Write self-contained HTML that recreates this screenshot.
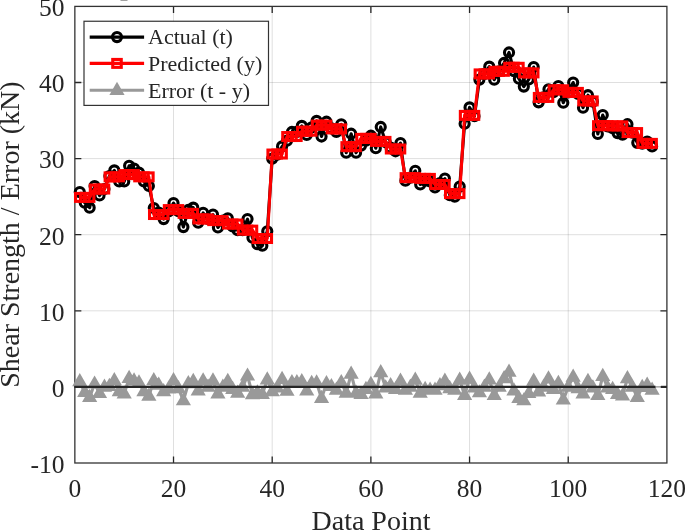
<!DOCTYPE html>
<html><head><meta charset="utf-8"><title>Shear Strength Prediction</title>
<style>html,body{margin:0;padding:0;background:#fff}body{width:685px;height:530px;overflow:hidden}svg{display:block}text{font-family:"Liberation Serif","Times New Roman",serif;fill:#262626}</style></head><body>
<svg width="685" height="530" viewBox="0 0 685 530">
<rect width="685" height="530" fill="#fff"/>
<rect x="120.5" y="0" width="7" height="0.8" fill="#8a8a8a"/>
<path d="M173.52 6.4 V463.0 M272.20 6.4 V463.0 M370.88 6.4 V463.0 M469.55 6.4 V463.0 M568.22 6.4 V463.0 M74.85 386.90 H666.9 M74.85 310.80 H666.9 M74.85 234.70 H666.9 M74.85 158.60 H666.9 M74.85 82.50 H666.9" stroke="#262626" stroke-opacity="0.15" stroke-width="1" fill="none"/>
<path d="M173.52 463.0 v-6.5 M173.52 6.4 v6.5 M272.20 463.0 v-6.5 M272.20 6.4 v6.5 M370.88 463.0 v-6.5 M370.88 6.4 v6.5 M469.55 463.0 v-6.5 M469.55 6.4 v6.5 M568.22 463.0 v-6.5 M568.22 6.4 v6.5 M74.85 386.90 h6.5 M666.9 386.90 h-6.5 M74.85 310.80 h6.5 M666.9 310.80 h-6.5 M74.85 234.70 h6.5 M666.9 234.70 h-6.5 M74.85 158.60 h6.5 M666.9 158.60 h-6.5 M74.85 82.50 h6.5 M666.9 82.50 h-6.5" stroke="#262626" stroke-width="1.3" fill="none"/>
<rect x="74.85" y="6.4" width="592.05" height="456.6" fill="none" stroke="#333" stroke-width="1.3"/>
<polyline points="79.78,192.08 84.72,202.74 89.65,207.68 94.58,186.00 99.52,195.51 104.45,189.04 109.39,176.10 114.32,170.40 119.25,181.43 124.19,181.43 129.12,165.83 134.06,168.49 138.99,172.68 143.92,181.43 148.86,186.00 153.79,208.06 158.72,212.63 163.66,219.10 168.59,211.49 173.52,203.12 178.46,211.11 183.39,227.09 188.33,209.97 193.26,207.68 198.19,222.75 203.13,212.86 208.06,218.95 212.99,214.53 217.93,227.47 222.86,220.62 227.80,218.34 232.73,226.33 237.66,230.13 242.60,230.13 247.53,219.10 252.46,237.74 257.40,244.21 262.33,245.73 267.27,231.28 272.20,158.60 277.13,154.80 282.07,146.42 287.00,140.72 291.93,131.96 296.87,131.96 301.80,125.88 306.74,135.01 311.67,127.40 316.60,120.93 321.54,136.53 326.47,121.69 331.40,128.39 336.34,131.96 341.27,124.35 346.21,152.74 351.14,133.72 356.07,152.74 361.01,145.59 365.94,140.64 370.88,135.69 375.81,148.25 380.74,126.94 385.68,142.16 390.61,147.64 395.54,151.29 400.48,143.08 405.41,180.67 410.34,177.62 415.28,170.78 420.21,184.47 425.15,180.67 430.08,181.43 435.01,187.52 439.95,183.10 444.88,178.54 449.81,195.13 454.75,196.65 459.68,186.60 464.62,123.75 469.55,107.38 474.48,116.14 479.42,79.61 484.35,73.90 489.28,66.67 494.22,79.68 499.15,71.31 504.09,62.94 509.02,52.44 513.95,71.08 518.89,78.69 523.82,86.61 528.75,79.38 533.69,67.05 538.62,102.36 543.56,97.42 548.49,89.27 553.42,92.09 558.36,86.00 563.29,102.74 568.22,92.39 573.16,82.50 578.09,93.91 583.03,107.77 587.96,95.21 592.89,101.68 597.83,134.02 602.76,114.99 607.69,126.41 612.63,128.16 617.56,133.11 622.50,134.63 627.43,124.20 632.36,132.57 637.30,142.85 642.23,143.76 647.16,141.48 652.10,146.42" fill="none" stroke="#000" stroke-width="3.1" stroke-linejoin="round"/>
<g fill="none" stroke="#000" stroke-width="3.1">
<circle cx="79.78" cy="192.08" r="4.55"/>
<circle cx="84.72" cy="202.74" r="4.55"/>
<circle cx="89.65" cy="207.68" r="4.55"/>
<circle cx="94.58" cy="186.00" r="4.55"/>
<circle cx="99.52" cy="195.51" r="4.55"/>
<circle cx="104.45" cy="189.04" r="4.55"/>
<circle cx="109.39" cy="176.10" r="4.55"/>
<circle cx="114.32" cy="170.40" r="4.55"/>
<circle cx="119.25" cy="181.43" r="4.55"/>
<circle cx="124.19" cy="181.43" r="4.55"/>
<circle cx="129.12" cy="165.83" r="4.55"/>
<circle cx="134.06" cy="168.49" r="4.55"/>
<circle cx="138.99" cy="172.68" r="4.55"/>
<circle cx="143.92" cy="181.43" r="4.55"/>
<circle cx="148.86" cy="186.00" r="4.55"/>
<circle cx="153.79" cy="208.06" r="4.55"/>
<circle cx="158.72" cy="212.63" r="4.55"/>
<circle cx="163.66" cy="219.10" r="4.55"/>
<circle cx="168.59" cy="211.49" r="4.55"/>
<circle cx="173.52" cy="203.12" r="4.55"/>
<circle cx="178.46" cy="211.11" r="4.55"/>
<circle cx="183.39" cy="227.09" r="4.55"/>
<circle cx="188.33" cy="209.97" r="4.55"/>
<circle cx="193.26" cy="207.68" r="4.55"/>
<circle cx="198.19" cy="222.75" r="4.55"/>
<circle cx="203.13" cy="212.86" r="4.55"/>
<circle cx="208.06" cy="218.95" r="4.55"/>
<circle cx="212.99" cy="214.53" r="4.55"/>
<circle cx="217.93" cy="227.47" r="4.55"/>
<circle cx="222.86" cy="220.62" r="4.55"/>
<circle cx="227.80" cy="218.34" r="4.55"/>
<circle cx="232.73" cy="226.33" r="4.55"/>
<circle cx="237.66" cy="230.13" r="4.55"/>
<circle cx="242.60" cy="230.13" r="4.55"/>
<circle cx="247.53" cy="219.10" r="4.55"/>
<circle cx="252.46" cy="237.74" r="4.55"/>
<circle cx="257.40" cy="244.21" r="4.55"/>
<circle cx="262.33" cy="245.73" r="4.55"/>
<circle cx="267.27" cy="231.28" r="4.55"/>
<circle cx="272.20" cy="158.60" r="4.55"/>
<circle cx="277.13" cy="154.80" r="4.55"/>
<circle cx="282.07" cy="146.42" r="4.55"/>
<circle cx="287.00" cy="140.72" r="4.55"/>
<circle cx="291.93" cy="131.96" r="4.55"/>
<circle cx="296.87" cy="131.96" r="4.55"/>
<circle cx="301.80" cy="125.88" r="4.55"/>
<circle cx="306.74" cy="135.01" r="4.55"/>
<circle cx="311.67" cy="127.40" r="4.55"/>
<circle cx="316.60" cy="120.93" r="4.55"/>
<circle cx="321.54" cy="136.53" r="4.55"/>
<circle cx="326.47" cy="121.69" r="4.55"/>
<circle cx="331.40" cy="128.39" r="4.55"/>
<circle cx="336.34" cy="131.96" r="4.55"/>
<circle cx="341.27" cy="124.35" r="4.55"/>
<circle cx="346.21" cy="152.74" r="4.55"/>
<circle cx="351.14" cy="133.72" r="4.55"/>
<circle cx="356.07" cy="152.74" r="4.55"/>
<circle cx="361.01" cy="145.59" r="4.55"/>
<circle cx="365.94" cy="140.64" r="4.55"/>
<circle cx="370.88" cy="135.69" r="4.55"/>
<circle cx="375.81" cy="148.25" r="4.55"/>
<circle cx="380.74" cy="126.94" r="4.55"/>
<circle cx="385.68" cy="142.16" r="4.55"/>
<circle cx="390.61" cy="147.64" r="4.55"/>
<circle cx="395.54" cy="151.29" r="4.55"/>
<circle cx="400.48" cy="143.08" r="4.55"/>
<circle cx="405.41" cy="180.67" r="4.55"/>
<circle cx="410.34" cy="177.62" r="4.55"/>
<circle cx="415.28" cy="170.78" r="4.55"/>
<circle cx="420.21" cy="184.47" r="4.55"/>
<circle cx="425.15" cy="180.67" r="4.55"/>
<circle cx="430.08" cy="181.43" r="4.55"/>
<circle cx="435.01" cy="187.52" r="4.55"/>
<circle cx="439.95" cy="183.10" r="4.55"/>
<circle cx="444.88" cy="178.54" r="4.55"/>
<circle cx="449.81" cy="195.13" r="4.55"/>
<circle cx="454.75" cy="196.65" r="4.55"/>
<circle cx="459.68" cy="186.60" r="4.55"/>
<circle cx="464.62" cy="123.75" r="4.55"/>
<circle cx="469.55" cy="107.38" r="4.55"/>
<circle cx="474.48" cy="116.14" r="4.55"/>
<circle cx="479.42" cy="79.61" r="4.55"/>
<circle cx="484.35" cy="73.90" r="4.55"/>
<circle cx="489.28" cy="66.67" r="4.55"/>
<circle cx="494.22" cy="79.68" r="4.55"/>
<circle cx="499.15" cy="71.31" r="4.55"/>
<circle cx="504.09" cy="62.94" r="4.55"/>
<circle cx="509.02" cy="52.44" r="4.55"/>
<circle cx="513.95" cy="71.08" r="4.55"/>
<circle cx="518.89" cy="78.69" r="4.55"/>
<circle cx="523.82" cy="86.61" r="4.55"/>
<circle cx="528.75" cy="79.38" r="4.55"/>
<circle cx="533.69" cy="67.05" r="4.55"/>
<circle cx="538.62" cy="102.36" r="4.55"/>
<circle cx="543.56" cy="97.42" r="4.55"/>
<circle cx="548.49" cy="89.27" r="4.55"/>
<circle cx="553.42" cy="92.09" r="4.55"/>
<circle cx="558.36" cy="86.00" r="4.55"/>
<circle cx="563.29" cy="102.74" r="4.55"/>
<circle cx="568.22" cy="92.39" r="4.55"/>
<circle cx="573.16" cy="82.50" r="4.55"/>
<circle cx="578.09" cy="93.91" r="4.55"/>
<circle cx="583.03" cy="107.77" r="4.55"/>
<circle cx="587.96" cy="95.21" r="4.55"/>
<circle cx="592.89" cy="101.68" r="4.55"/>
<circle cx="597.83" cy="134.02" r="4.55"/>
<circle cx="602.76" cy="114.99" r="4.55"/>
<circle cx="607.69" cy="126.41" r="4.55"/>
<circle cx="612.63" cy="128.16" r="4.55"/>
<circle cx="617.56" cy="133.11" r="4.55"/>
<circle cx="622.50" cy="134.63" r="4.55"/>
<circle cx="627.43" cy="124.20" r="4.55"/>
<circle cx="632.36" cy="132.57" r="4.55"/>
<circle cx="637.30" cy="142.85" r="4.55"/>
<circle cx="642.23" cy="143.76" r="4.55"/>
<circle cx="647.16" cy="141.48" r="4.55"/>
<circle cx="652.10" cy="146.42" r="4.55"/>
</g>
<polyline points="79.78,197.41 84.72,197.41 89.65,197.41 94.58,189.04 99.52,189.04 104.45,189.04 109.39,176.86 114.32,176.86 119.25,176.86 124.19,174.58 129.12,174.58 134.06,174.58 138.99,176.86 143.92,176.86 148.86,176.86 153.79,214.53 158.72,214.53 163.66,214.53 168.59,209.59 173.52,209.59 178.46,209.59 183.39,213.39 188.33,213.39 193.26,213.39 198.19,218.95 203.13,218.95 208.06,218.95 212.99,220.62 217.93,220.62 222.86,220.62 227.80,224.05 232.73,224.05 237.66,224.05 242.60,230.13 247.53,230.13 252.46,230.13 257.40,238.50 262.33,238.50 267.27,238.50 272.20,154.03 277.13,154.03 282.07,154.03 287.00,136.53 291.93,136.53 296.87,136.53 301.80,131.20 306.74,131.20 311.67,131.20 316.60,125.12 321.54,125.12 326.47,125.12 331.40,128.92 336.34,128.92 341.27,128.92 346.21,146.65 351.14,146.65 356.07,146.65 361.01,138.36 365.94,138.36 370.88,138.36 375.81,141.40 380.74,141.40 385.68,141.40 390.61,149.01 395.54,149.01 400.48,149.01 405.41,177.62 410.34,177.62 415.28,177.62 420.21,178.39 425.15,178.39 430.08,178.39 435.01,184.47 439.95,184.47 444.88,184.47 449.81,193.61 454.75,193.61 459.68,193.61 464.62,115.38 469.55,115.38 474.48,115.38 479.42,73.90 484.35,73.90 489.28,73.90 494.22,71.31 499.15,71.31 504.09,71.31 509.02,67.28 513.95,67.28 518.89,67.28 523.82,72.91 528.75,72.91 533.69,72.91 538.62,97.42 543.56,97.42 548.49,97.42 553.42,89.81 558.36,89.81 563.29,89.81 568.22,92.39 573.16,92.39 578.09,92.39 583.03,100.92 587.96,100.92 592.89,100.92 597.83,125.65 602.76,125.65 607.69,125.65 612.63,125.88 617.56,125.88 622.50,125.88 627.43,132.57 632.36,132.57 637.30,132.57 642.23,143.38 647.16,143.38 652.10,143.38" fill="none" stroke="#f00" stroke-width="3.1" stroke-linejoin="round"/>
<g fill="none" stroke="#f00" stroke-width="3.1">
<rect x="75.53" y="193.46" width="8.5" height="7.9"/>
<rect x="80.47" y="193.46" width="8.5" height="7.9"/>
<rect x="85.40" y="193.46" width="8.5" height="7.9"/>
<rect x="90.33" y="185.09" width="8.5" height="7.9"/>
<rect x="95.27" y="185.09" width="8.5" height="7.9"/>
<rect x="100.20" y="185.09" width="8.5" height="7.9"/>
<rect x="105.14" y="172.91" width="8.5" height="7.9"/>
<rect x="110.07" y="172.91" width="8.5" height="7.9"/>
<rect x="115.00" y="172.91" width="8.5" height="7.9"/>
<rect x="119.94" y="170.63" width="8.5" height="7.9"/>
<rect x="124.87" y="170.63" width="8.5" height="7.9"/>
<rect x="129.81" y="170.63" width="8.5" height="7.9"/>
<rect x="134.74" y="172.91" width="8.5" height="7.9"/>
<rect x="139.67" y="172.91" width="8.5" height="7.9"/>
<rect x="144.61" y="172.91" width="8.5" height="7.9"/>
<rect x="149.54" y="210.58" width="8.5" height="7.9"/>
<rect x="154.47" y="210.58" width="8.5" height="7.9"/>
<rect x="159.41" y="210.58" width="8.5" height="7.9"/>
<rect x="164.34" y="205.64" width="8.5" height="7.9"/>
<rect x="169.27" y="205.64" width="8.5" height="7.9"/>
<rect x="174.21" y="205.64" width="8.5" height="7.9"/>
<rect x="179.14" y="209.44" width="8.5" height="7.9"/>
<rect x="184.08" y="209.44" width="8.5" height="7.9"/>
<rect x="189.01" y="209.44" width="8.5" height="7.9"/>
<rect x="193.94" y="215.00" width="8.5" height="7.9"/>
<rect x="198.88" y="215.00" width="8.5" height="7.9"/>
<rect x="203.81" y="215.00" width="8.5" height="7.9"/>
<rect x="208.74" y="216.67" width="8.5" height="7.9"/>
<rect x="213.68" y="216.67" width="8.5" height="7.9"/>
<rect x="218.61" y="216.67" width="8.5" height="7.9"/>
<rect x="223.55" y="220.10" width="8.5" height="7.9"/>
<rect x="228.48" y="220.10" width="8.5" height="7.9"/>
<rect x="233.41" y="220.10" width="8.5" height="7.9"/>
<rect x="238.35" y="226.18" width="8.5" height="7.9"/>
<rect x="243.28" y="226.18" width="8.5" height="7.9"/>
<rect x="248.21" y="226.18" width="8.5" height="7.9"/>
<rect x="253.15" y="234.56" width="8.5" height="7.9"/>
<rect x="258.08" y="234.56" width="8.5" height="7.9"/>
<rect x="263.02" y="234.56" width="8.5" height="7.9"/>
<rect x="267.95" y="150.08" width="8.5" height="7.9"/>
<rect x="272.88" y="150.08" width="8.5" height="7.9"/>
<rect x="277.82" y="150.08" width="8.5" height="7.9"/>
<rect x="282.75" y="132.58" width="8.5" height="7.9"/>
<rect x="287.68" y="132.58" width="8.5" height="7.9"/>
<rect x="292.62" y="132.58" width="8.5" height="7.9"/>
<rect x="297.55" y="127.25" width="8.5" height="7.9"/>
<rect x="302.49" y="127.25" width="8.5" height="7.9"/>
<rect x="307.42" y="127.25" width="8.5" height="7.9"/>
<rect x="312.35" y="121.17" width="8.5" height="7.9"/>
<rect x="317.29" y="121.17" width="8.5" height="7.9"/>
<rect x="322.22" y="121.17" width="8.5" height="7.9"/>
<rect x="327.15" y="124.97" width="8.5" height="7.9"/>
<rect x="332.09" y="124.97" width="8.5" height="7.9"/>
<rect x="337.02" y="124.97" width="8.5" height="7.9"/>
<rect x="341.96" y="142.70" width="8.5" height="7.9"/>
<rect x="346.89" y="142.70" width="8.5" height="7.9"/>
<rect x="351.82" y="142.70" width="8.5" height="7.9"/>
<rect x="356.76" y="134.41" width="8.5" height="7.9"/>
<rect x="361.69" y="134.41" width="8.5" height="7.9"/>
<rect x="366.62" y="134.41" width="8.5" height="7.9"/>
<rect x="371.56" y="137.45" width="8.5" height="7.9"/>
<rect x="376.49" y="137.45" width="8.5" height="7.9"/>
<rect x="381.43" y="137.45" width="8.5" height="7.9"/>
<rect x="386.36" y="145.06" width="8.5" height="7.9"/>
<rect x="391.29" y="145.06" width="8.5" height="7.9"/>
<rect x="396.23" y="145.06" width="8.5" height="7.9"/>
<rect x="401.16" y="173.68" width="8.5" height="7.9"/>
<rect x="406.09" y="173.68" width="8.5" height="7.9"/>
<rect x="411.03" y="173.68" width="8.5" height="7.9"/>
<rect x="415.96" y="174.44" width="8.5" height="7.9"/>
<rect x="420.90" y="174.44" width="8.5" height="7.9"/>
<rect x="425.83" y="174.44" width="8.5" height="7.9"/>
<rect x="430.76" y="180.52" width="8.5" height="7.9"/>
<rect x="435.70" y="180.52" width="8.5" height="7.9"/>
<rect x="440.63" y="180.52" width="8.5" height="7.9"/>
<rect x="445.56" y="189.66" width="8.5" height="7.9"/>
<rect x="450.50" y="189.66" width="8.5" height="7.9"/>
<rect x="455.43" y="189.66" width="8.5" height="7.9"/>
<rect x="460.37" y="111.43" width="8.5" height="7.9"/>
<rect x="465.30" y="111.43" width="8.5" height="7.9"/>
<rect x="470.23" y="111.43" width="8.5" height="7.9"/>
<rect x="475.17" y="69.95" width="8.5" height="7.9"/>
<rect x="480.10" y="69.95" width="8.5" height="7.9"/>
<rect x="485.03" y="69.95" width="8.5" height="7.9"/>
<rect x="489.97" y="67.36" width="8.5" height="7.9"/>
<rect x="494.90" y="67.36" width="8.5" height="7.9"/>
<rect x="499.84" y="67.36" width="8.5" height="7.9"/>
<rect x="504.77" y="63.33" width="8.5" height="7.9"/>
<rect x="509.70" y="63.33" width="8.5" height="7.9"/>
<rect x="514.64" y="63.33" width="8.5" height="7.9"/>
<rect x="519.57" y="68.96" width="8.5" height="7.9"/>
<rect x="524.50" y="68.96" width="8.5" height="7.9"/>
<rect x="529.44" y="68.96" width="8.5" height="7.9"/>
<rect x="534.37" y="93.47" width="8.5" height="7.9"/>
<rect x="539.31" y="93.47" width="8.5" height="7.9"/>
<rect x="544.24" y="93.47" width="8.5" height="7.9"/>
<rect x="549.17" y="85.86" width="8.5" height="7.9"/>
<rect x="554.11" y="85.86" width="8.5" height="7.9"/>
<rect x="559.04" y="85.86" width="8.5" height="7.9"/>
<rect x="563.97" y="88.44" width="8.5" height="7.9"/>
<rect x="568.91" y="88.44" width="8.5" height="7.9"/>
<rect x="573.84" y="88.44" width="8.5" height="7.9"/>
<rect x="578.78" y="96.97" width="8.5" height="7.9"/>
<rect x="583.71" y="96.97" width="8.5" height="7.9"/>
<rect x="588.64" y="96.97" width="8.5" height="7.9"/>
<rect x="593.58" y="121.70" width="8.5" height="7.9"/>
<rect x="598.51" y="121.70" width="8.5" height="7.9"/>
<rect x="603.44" y="121.70" width="8.5" height="7.9"/>
<rect x="608.38" y="121.93" width="8.5" height="7.9"/>
<rect x="613.31" y="121.93" width="8.5" height="7.9"/>
<rect x="618.25" y="121.93" width="8.5" height="7.9"/>
<rect x="623.18" y="128.62" width="8.5" height="7.9"/>
<rect x="628.11" y="128.62" width="8.5" height="7.9"/>
<rect x="633.05" y="128.62" width="8.5" height="7.9"/>
<rect x="637.98" y="139.43" width="8.5" height="7.9"/>
<rect x="642.91" y="139.43" width="8.5" height="7.9"/>
<rect x="647.85" y="139.43" width="8.5" height="7.9"/>
</g>
<polyline points="79.78,381.57 84.72,392.23 89.65,397.17 94.58,383.86 99.52,393.37 104.45,386.90 109.39,386.14 114.32,380.43 119.25,391.47 124.19,393.75 129.12,378.15 134.06,380.81 138.99,382.71 143.92,391.47 148.86,396.03 153.79,380.43 158.72,385.00 163.66,391.47 168.59,388.80 173.52,380.43 178.46,388.42 183.39,400.60 188.33,383.48 193.26,381.19 198.19,390.70 203.13,380.81 208.06,386.90 212.99,380.81 217.93,393.75 222.86,386.90 227.80,381.19 232.73,389.18 237.66,392.99 242.60,386.90 247.53,375.87 252.46,394.51 257.40,392.61 262.33,394.13 267.27,379.67 272.20,391.47 277.13,387.66 282.07,379.29 287.00,391.09 291.93,382.33 296.87,382.33 301.80,381.57 306.74,390.70 311.67,383.10 316.60,382.71 321.54,398.31 326.47,383.48 331.40,386.37 336.34,389.94 341.27,382.33 346.21,392.99 351.14,373.96 356.07,392.99 361.01,394.13 365.94,389.18 370.88,384.24 375.81,393.75 380.74,372.44 385.68,387.66 390.61,385.53 395.54,389.18 400.48,380.96 405.41,389.94 410.34,386.90 415.28,380.05 420.21,392.99 425.15,389.18 430.08,389.94 435.01,389.94 439.95,385.53 444.88,380.96 449.81,388.42 454.75,389.94 459.68,379.90 464.62,395.27 469.55,378.91 474.48,387.66 479.42,392.61 484.35,386.90 489.28,379.67 494.22,395.27 499.15,386.90 504.09,378.53 509.02,372.06 513.95,390.70 518.89,398.31 523.82,400.60 528.75,393.37 533.69,381.04 538.62,391.85 543.56,386.90 548.49,378.76 553.42,389.18 558.36,383.10 563.29,399.84 568.22,386.90 573.16,377.01 578.09,388.42 583.03,393.75 587.96,381.19 592.89,387.66 597.83,395.27 602.76,376.25 607.69,387.66 612.63,389.18 617.56,394.13 622.50,395.65 627.43,378.53 632.36,386.90 637.30,397.17 642.23,387.28 647.16,385.00 652.10,389.94" fill="none" stroke="#999" stroke-width="3.1" stroke-linejoin="round"/>
<path d="M72.18 386.32 L87.38 386.32 L79.78 373.12 Z M77.12 396.98 L92.32 396.98 L84.72 383.78 Z M82.05 401.93 L97.25 401.93 L89.65 388.73 Z M86.98 388.61 L102.18 388.61 L94.58 375.41 Z M91.92 398.12 L107.12 398.12 L99.52 384.92 Z M96.85 391.65 L112.05 391.65 L104.45 378.45 Z M101.79 390.89 L116.99 390.89 L109.39 377.69 Z M106.72 385.18 L121.92 385.18 L114.32 371.98 Z M111.65 396.22 L126.85 396.22 L119.25 383.02 Z M116.59 398.50 L131.79 398.50 L124.19 385.30 Z M121.52 382.90 L136.72 382.90 L129.12 369.70 Z M126.46 385.56 L141.66 385.56 L134.06 372.36 Z M131.39 387.47 L146.59 387.47 L138.99 374.27 Z M136.32 396.22 L151.52 396.22 L143.92 383.02 Z M141.26 400.78 L156.46 400.78 L148.86 387.58 Z M146.19 385.18 L161.39 385.18 L153.79 371.98 Z M151.12 389.75 L166.32 389.75 L158.72 376.55 Z M156.06 396.22 L171.26 396.22 L163.66 383.02 Z M160.99 393.55 L176.19 393.55 L168.59 380.35 Z M165.92 385.18 L181.12 385.18 L173.52 371.98 Z M170.86 393.17 L186.06 393.17 L178.46 379.97 Z M175.79 405.35 L190.99 405.35 L183.39 392.15 Z M180.73 388.23 L195.93 388.23 L188.33 375.03 Z M185.66 385.94 L200.86 385.94 L193.26 372.74 Z M190.59 395.46 L205.79 395.46 L198.19 382.26 Z M195.53 385.56 L210.73 385.56 L203.13 372.36 Z M200.46 391.65 L215.66 391.65 L208.06 378.45 Z M205.39 385.56 L220.59 385.56 L212.99 372.36 Z M210.33 398.50 L225.53 398.50 L217.93 385.30 Z M215.26 391.65 L230.46 391.65 L222.86 378.45 Z M220.20 385.94 L235.40 385.94 L227.80 372.74 Z M225.13 393.94 L240.33 393.94 L232.73 380.74 Z M230.06 397.74 L245.26 397.74 L237.66 384.54 Z M235.00 391.65 L250.20 391.65 L242.60 378.45 Z M239.93 380.62 L255.13 380.62 L247.53 367.42 Z M244.86 399.26 L260.06 399.26 L252.46 386.06 Z M249.80 397.36 L265.00 397.36 L257.40 384.16 Z M254.73 398.88 L269.93 398.88 L262.33 385.68 Z M259.67 384.42 L274.87 384.42 L267.27 371.22 Z M264.60 396.22 L279.80 396.22 L272.20 383.02 Z M269.53 392.41 L284.73 392.41 L277.13 379.21 Z M274.47 384.04 L289.67 384.04 L282.07 370.84 Z M279.40 395.84 L294.60 395.84 L287.00 382.64 Z M284.33 387.09 L299.53 387.09 L291.93 373.89 Z M289.27 387.09 L304.47 387.09 L296.87 373.89 Z M294.20 386.32 L309.40 386.32 L301.80 373.12 Z M299.14 395.46 L314.34 395.46 L306.74 382.26 Z M304.07 387.85 L319.27 387.85 L311.67 374.65 Z M309.00 387.47 L324.20 387.47 L316.60 374.27 Z M313.94 403.07 L329.14 403.07 L321.54 389.87 Z M318.87 388.23 L334.07 388.23 L326.47 375.03 Z M323.80 391.12 L339.00 391.12 L331.40 377.92 Z M328.74 394.70 L343.94 394.70 L336.34 381.50 Z M333.67 387.09 L348.87 387.09 L341.27 373.89 Z M338.61 397.74 L353.81 397.74 L346.21 384.54 Z M343.54 378.71 L358.74 378.71 L351.14 365.51 Z M348.47 397.74 L363.67 397.74 L356.07 384.54 Z M353.41 398.88 L368.61 398.88 L361.01 385.68 Z M358.34 393.94 L373.54 393.94 L365.94 380.74 Z M363.27 388.99 L378.48 388.99 L370.88 375.79 Z M368.21 398.50 L383.41 398.50 L375.81 385.30 Z M373.14 377.19 L388.34 377.19 L380.74 363.99 Z M378.08 392.41 L393.28 392.41 L385.68 379.21 Z M383.01 390.28 L398.21 390.28 L390.61 377.08 Z M387.94 393.94 L403.14 393.94 L395.54 380.74 Z M392.88 385.72 L408.08 385.72 L400.48 372.52 Z M397.81 394.70 L413.01 394.70 L405.41 381.50 Z M402.74 391.65 L417.94 391.65 L410.34 378.45 Z M407.68 384.80 L422.88 384.80 L415.28 371.60 Z M412.61 397.74 L427.81 397.74 L420.21 384.54 Z M417.55 393.94 L432.75 393.94 L425.15 380.74 Z M422.48 394.70 L437.68 394.70 L430.08 381.50 Z M427.41 394.70 L442.61 394.70 L435.01 381.50 Z M432.35 390.28 L447.55 390.28 L439.95 377.08 Z M437.28 385.72 L452.48 385.72 L444.88 372.52 Z M442.21 393.17 L457.41 393.17 L449.81 379.97 Z M447.15 394.70 L462.35 394.70 L454.75 381.50 Z M452.08 384.65 L467.28 384.65 L459.68 371.45 Z M457.02 400.02 L472.22 400.02 L464.62 386.82 Z M461.95 383.66 L477.15 383.66 L469.55 370.46 Z M466.88 392.41 L482.08 392.41 L474.48 379.21 Z M471.82 397.36 L487.02 397.36 L479.42 384.16 Z M476.75 391.65 L491.95 391.65 L484.35 378.45 Z M481.68 384.42 L496.88 384.42 L489.28 371.22 Z M486.62 400.02 L501.82 400.02 L494.22 386.82 Z M491.55 391.65 L506.75 391.65 L499.15 378.45 Z M496.49 383.28 L511.69 383.28 L504.09 370.08 Z M501.42 376.81 L516.62 376.81 L509.02 363.61 Z M506.35 395.46 L521.55 395.46 L513.95 382.26 Z M511.29 403.07 L526.49 403.07 L518.89 389.87 Z M516.22 405.35 L531.42 405.35 L523.82 392.15 Z M521.15 398.12 L536.36 398.12 L528.75 384.92 Z M526.09 385.79 L541.29 385.79 L533.69 372.59 Z M531.02 396.60 L546.22 396.60 L538.62 383.40 Z M535.96 391.65 L551.16 391.65 L543.56 378.45 Z M540.89 383.51 L556.09 383.51 L548.49 370.31 Z M545.82 393.94 L561.02 393.94 L553.42 380.74 Z M550.76 387.85 L565.96 387.85 L558.36 374.65 Z M555.69 404.59 L570.89 404.59 L563.29 391.39 Z M560.62 391.65 L575.82 391.65 L568.22 378.45 Z M565.56 381.76 L580.76 381.76 L573.16 368.56 Z M570.49 393.17 L585.69 393.17 L578.09 379.97 Z M575.43 398.50 L590.63 398.50 L583.03 385.30 Z M580.36 385.94 L595.56 385.94 L587.96 372.74 Z M585.29 392.41 L600.49 392.41 L592.89 379.21 Z M590.23 400.02 L605.43 400.02 L597.83 386.82 Z M595.16 381.00 L610.36 381.00 L602.76 367.80 Z M600.09 392.41 L615.29 392.41 L607.69 379.21 Z M605.03 393.94 L620.23 393.94 L612.63 380.74 Z M609.96 398.88 L625.16 398.88 L617.56 385.68 Z M614.90 400.40 L630.10 400.40 L622.50 387.20 Z M619.83 383.28 L635.03 383.28 L627.43 370.08 Z M624.76 391.65 L639.96 391.65 L632.36 378.45 Z M629.70 401.93 L644.90 401.93 L637.30 388.73 Z M634.63 392.03 L649.83 392.03 L642.23 378.83 Z M639.56 389.75 L654.76 389.75 L647.16 376.55 Z M644.50 394.70 L659.70 394.70 L652.10 381.50 Z" fill="#999" stroke="none"/>
<path d="M655.5 386.90 H666.9" stroke="#808080" stroke-width="1" fill="none"/>
<path d="M661 386.90 H666.9" stroke="#262626" stroke-width="2.2" fill="none"/>
<path d="M74.25 386.90 H655.5" stroke="#262626" stroke-width="2.2" fill="none"/>
<g font-size="25.5" text-anchor="middle">
<text x="74.85" y="497">0</text>
<text x="173.52" y="497">20</text>
<text x="272.20" y="497">40</text>
<text x="370.88" y="497">60</text>
<text x="469.55" y="497">80</text>
<text x="568.22" y="497">100</text>
<text x="666.90" y="497">120</text>
</g>
<g font-size="25.5" text-anchor="end">
<text x="64.5" y="472.82">-10</text>
<text x="64.5" y="396.72">0</text>
<text x="64.5" y="320.62">10</text>
<text x="64.5" y="244.52">20</text>
<text x="64.5" y="168.42">30</text>
<text x="64.5" y="92.32">40</text>
<text x="64.5" y="16.22">50</text>
</g>
<text x="371" y="529.5" font-size="28" text-anchor="middle">Data Point</text>
<text transform="translate(19,234.6) rotate(-90)" font-size="28" text-anchor="middle">Shear Strength / Error (kN)</text>
<rect x="84" y="21.25" width="184.5" height="84.15" fill="#fff" stroke="#333" stroke-width="1.2"/>
<path d="M89.7 37.1 H144.1" stroke="#000" stroke-width="3.1"/><circle cx="117" cy="37.1" r="4.55" fill="none" stroke="#000" stroke-width="3.1"/>
<path d="M89.7 63.4 H144.1" stroke="#f00" stroke-width="3.1"/><rect x="112.75" y="59.449999999999996" width="8.5" height="7.9" fill="none" stroke="#f00" stroke-width="3.1"/>
<path d="M89.7 90.3 H144.1" stroke="#999" stroke-width="3.1"/><path d="M109.40 95.05 L124.60 95.05 L117.00 81.85 Z" fill="#999"/>
<g font-size="22" fill="#000">
<text x="148" y="44.42" fill="#000">Actual (t)</text>
<text x="148" y="70.72" fill="#000">Predicted (y)</text>
<text x="148" y="97.62" fill="#000">Error (t - y)</text>
</g>
</svg></body></html>
